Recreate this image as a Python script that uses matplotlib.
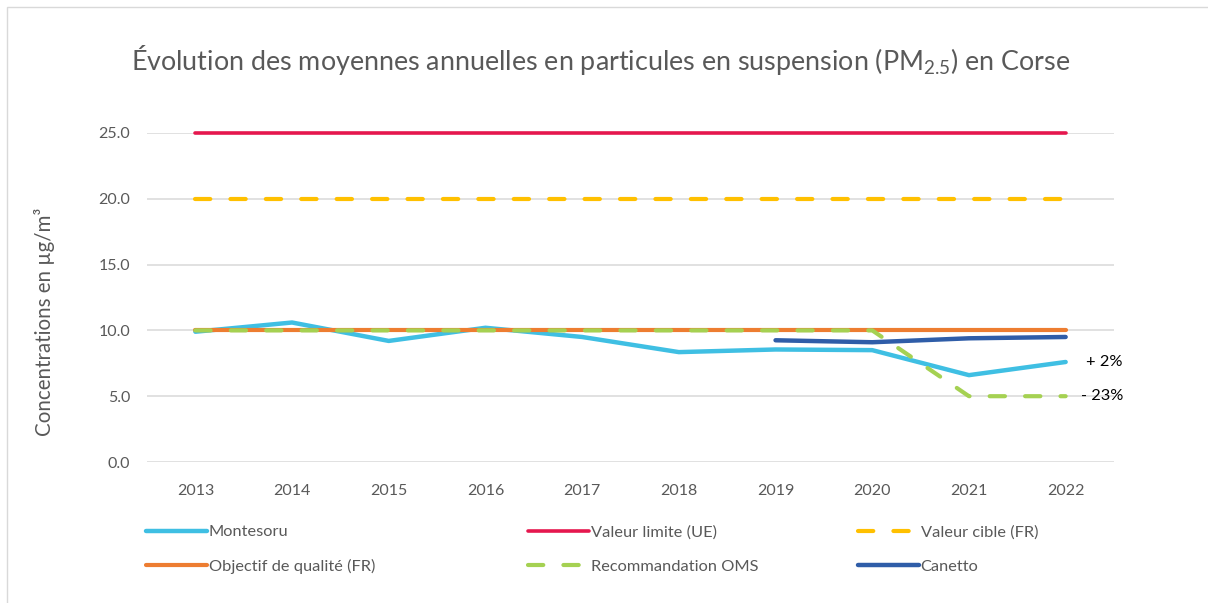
import matplotlib
matplotlib.use("Agg")
import matplotlib.pyplot as plt
from matplotlib.patches import Rectangle

plt.rcParams['font.family'] = ['Lato', 'DejaVu Sans']
plt.rcParams['mathtext.fontset'] = 'custom'
plt.rcParams['mathtext.rm'] = 'Lato'
plt.rcParams['mathtext.it'] = 'Lato'
plt.rcParams['lines.scale_dashes'] = False

years = ["2013", "2014", "2015", "2016", "2017", "2018", "2019", "2020", "2021", "2022"]
montesoru = [9.9, 10.6, 9.2, 10.2, 9.5, 8.35, 8.55, 8.5, 6.6, 7.6]
valeur_limite = [25, 25, 25, 25, 25, 25, 25, 25, 25, 25]
valeur_cible = [20, 20, 20, 20, 20, 20, 20, 20, 20, 20]
objectif = [10, 10, 10, 10, 10, 10, 10, 10, 10, 10]
oms = [10, 10, 10, 10, 10, 10, 10, 10, 5, 5]
canetto_years = ["2019", "2020", "2021", "2022"]
canetto = [9.25, 9.1, 9.4, 9.5]
annot_montesoru = "+ 2%"
annot_oms = "- 23%"

W, H = 1208, 603
fig = plt.figure(figsize=(W / 100, H / 100), dpi=100)
fig.patches.append(Rectangle((7 / W, -0.1), 1.2, 1 - 7 / H + 0.1, transform=fig.transFigure,
                             fill=False, edgecolor='#d9d9d9', linewidth=1.0))

ax = fig.add_axes([147 / W, 1 - 462 / H, (1114 - 147) / W, (462 - 133) / H])
x = list(range(len(years)))
cx = [years.index(y) for y in canetto_years]

grey = '#595959'
lines = {}
lines['Montesoru'] = ax.plot(x, montesoru, color='#3FBFE3', lw=3.2, solid_capstyle='round',
                             solid_joinstyle='round', clip_on=False)[0]
lines['Valeur limite (UE)'] = ax.plot(x, valeur_limite, color='#E5174E', lw=2.6,
                                      solid_capstyle='round', clip_on=False)[0]
lines['Valeur cible (FR)'] = ax.plot(x, valeur_cible, color='#FFC000', lw=3.0,
                                     dashes=(11, 14.5), dash_capstyle='round', clip_on=False)[0]
lines['Objectif de qualité (FR)'] = ax.plot(x, objectif, color='#ED7D31', lw=3.0,
                                            solid_capstyle='round', clip_on=False)[0]
lines['Recommandation OMS'] = ax.plot(x, oms, color='#A5D152', lw=3.0, dashes=(11, 14.5),
                                      dash_capstyle='round', clip_on=False)[0]
lines['Canetto'] = ax.plot(cx, canetto, color='#2F5DA8', lw=3.2, solid_capstyle='round',
                           clip_on=False)[0]

ax.set_xlim(-0.5, len(years) - 0.5)
ax.set_ylim(0, 25)
ax.set_yticks([0, 5, 10, 15, 20, 25])
ax.set_yticklabels([f"{v:.1f}" for v in [0, 5, 10, 15, 20, 25]])
ax.set_xticks(x)
ax.set_xticklabels(years)
ax.grid(axis='y', color='#d9d9d9', lw=1.1, zorder=0)
ax.set_axisbelow(True)
for s in ax.spines.values():
    s.set_visible(False)
ax.tick_params(axis='both', length=0, colors=grey, labelsize=11.5)
ax.tick_params(axis='y', pad=12)
ax.tick_params(axis='x', pad=16)

ax.annotate(annot_montesoru, xy=(x[-1], montesoru[-1]), xytext=(15, 0), textcoords='offset points',
            va='center', ha='left', fontsize=11.8, color='black')
ax.annotate(annot_oms, xy=(x[-1], oms[-1]), xytext=(11, 0), textcoords='offset points',
            va='center', ha='left', fontsize=11.8, color='black')

fig.text(601 / W, 1 - 60 / H, r"Évolution des moyennes annuelles en particules en suspension (PM$_{2.5}$) en Corse",
         ha='center', va='center', fontsize=19.4, color=grey)
fig.text(45 / W, 1 - 322 / H, "Concentrations en µg/m³", rotation=90, ha='center', va='center',
         fontsize=14.8, color=grey)

cols = [(146, ['Montesoru', 'Objectif de qualité (FR)']),
        (528, ['Valeur limite (UE)', 'Recommandation OMS']),
        (858, ['Valeur cible (FR)', 'Canetto'])]
for xpos, names in cols:
    leg = fig.legend([lines[n] for n in names], names, loc='upper left',
                     bbox_to_anchor=(xpos / W, 1 - 525 / H), frameon=False,
                     fontsize=11.8, handlelength=3.7, handletextpad=0.12,
                     borderpad=0, borderaxespad=0, labelspacing=1.2, labelcolor=grey)

fig.savefig("out.png", dpi=100)
